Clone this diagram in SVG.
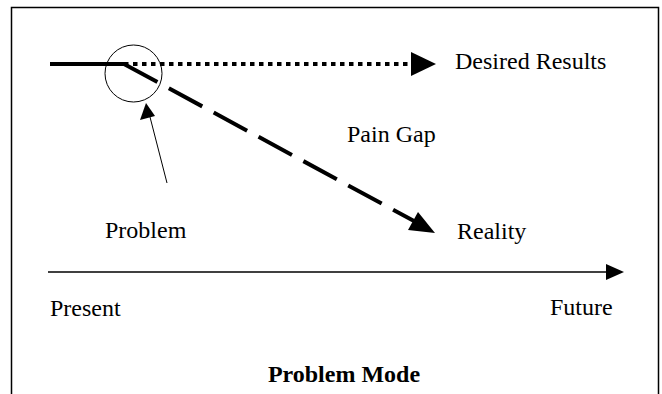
<svg xmlns="http://www.w3.org/2000/svg" width="662" height="394" viewBox="0 0 662 394">
<style>
.t{font-family:"Liberation Serif","Times New Roman",serif;font-size:24px;fill:#000}
.b{font-weight:bold}
.thick{stroke:#000;stroke-width:4;fill:none}
</style>
<rect width="662" height="394" fill="#fff"/>
<path d="M11.5,394 V7.5 H658.5 V394" fill="none" stroke="#000" stroke-width="1.5"/>
<g id="connectors">
<line x1="50" y1="64" x2="124" y2="64" class="thick"/>
<line x1="124" y1="64" x2="411" y2="64" stroke="#000" stroke-width="4" stroke-dasharray="4.5,4.5"/>
<path d="M411,52 L436,64 L411,76 z" fill="#000"/>
<line x1="124" y1="64" x2="414" y2="221" stroke="#000" stroke-width="4" stroke-dasharray="38,13"/>
<path d="M435,233 L408,230 L418,212 z" fill="#000"/>
<line x1="167" y1="183" x2="150" y2="117" stroke="#000" stroke-width="1"/>
<path d="M146,103 L140,120 L155,116 z" fill="#000"/>
<line x1="48" y1="272" x2="608" y2="272" stroke="#000" stroke-width="1.5"/>
<path d="M624,272 L606,264 L606,280 z" fill="#000"/>
</g>
<g id="problem-circle"><circle cx="133.5" cy="73.5" r="28.5" fill="none" stroke="#000" stroke-width="1"/></g>
<g id="desired"><text class="t" x="455" y="69">Desired Results</text></g>
<g id="paingap"><text class="t" x="347" y="142">Pain Gap</text></g>
<g id="problem"><text class="t" x="105" y="238">Problem</text></g>
<g id="reality"><text class="t" x="457" y="239">Reality</text></g>
<g id="present"><text class="t" x="50" y="316">Present</text></g>
<g id="future"><text class="t" x="550" y="315">Future</text></g>
<g id="title"><text class="t b" x="344" y="382" text-anchor="middle">Problem Mode</text></g>
</svg>
